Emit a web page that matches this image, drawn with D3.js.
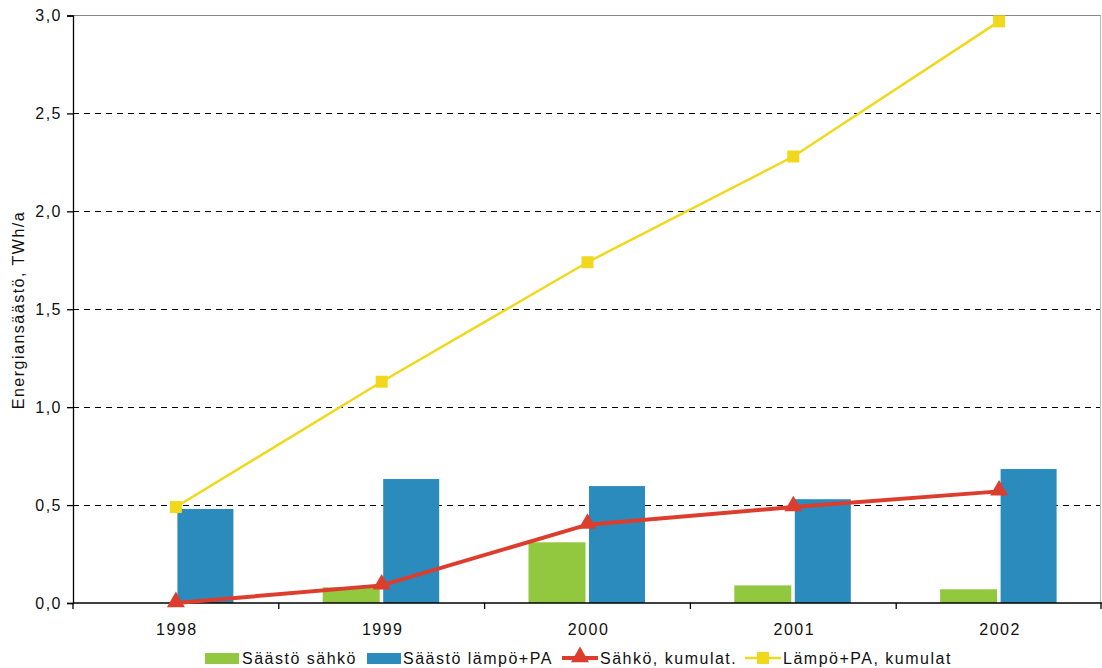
<!DOCTYPE html>
<html><head><meta charset="utf-8">
<script src="https://cdn.jsdelivr.net/npm/d3@7"></script>
<style>body{margin:0;background:#fff}svg{display:block}text{font-family:"Liberation Sans",Arial,sans-serif;fill:#111;letter-spacing:1.5px}</style>
</head><body>
<svg id="c" width="1102" height="668"></svg>
<script>
const years = ["1998","1999","2000","2001","2002"];
const saastoSahko = [0, 0.08, 0.31, 0.09, 0.07];
const saastoLampo = [0.48, 0.633, 0.597, 0.53, 0.684];
const sahkoKumulat = [0, 0.09, 0.40, 0.49, 0.57];
const lampoKumulat = [0.49, 1.13, 1.74, 2.28, 2.97];
const yTicks = [0, 0.5, 1.0, 1.5, 2.0, 2.5, 3.0];
const seriesNames = ["Säästö sähkö","Säästö lämpö+PA","Sähkö, kumulat.","Lämpö+PA, kumulat"];
const colors = {green:"#92c740", blue:"#2c8bbd", red:"#dc3d2d", yellow:"#f1d81c"};

const FS = "16px";
const svg = d3.select("#c");
const L = 73, R = 1102, T = 15.5, B = 603;
const x = d3.scaleBand().domain(years).range([L, R]);
const y = d3.scaleLinear().domain([0, 3]).range([B, T]);
const fmt = d => d.toFixed(1).replace(".", ",");

// grid
svg.append("g").selectAll("line").data(yTicks.filter(t => t > 0 && t < 3)).join("line")
  .attr("x1", L).attr("x2", R - 1).attr("y1", d => Math.round(y(d)) + 0.5).attr("y2", d => Math.round(y(d)) + 0.5)
  .attr("stroke", "#000").attr("stroke-width", 1).attr("stroke-dasharray", "6,5");
// top border and right border
svg.append("line").attr("x1", L).attr("x2", R - 1).attr("y1", y(3)).attr("y2", y(3)).attr("stroke", "#888").attr("stroke-width", 1.2);
svg.append("line").attr("x1", R - 1.5).attr("x2", R - 1.5).attr("y1", y(3)).attr("y2", B).attr("stroke", "#bbb").attr("stroke-width", 1);

// bars
const bw = 57;
svg.append("g").selectAll("rect").data(years).join("rect")
  .attr("x", d => x(d) + x.bandwidth()/2 - 2 - bw).attr("width", bw)
  .attr("y", (d,i) => y(saastoSahko[i])).attr("height", (d,i) => B - y(saastoSahko[i]))
  .attr("fill", colors.green);
svg.append("g").selectAll("rect").data(years).join("rect")
  .attr("x", d => x(d) + x.bandwidth()/2 + 1.5).attr("width", bw - 1)
  .attr("y", (d,i) => y(saastoLampo[i])).attr("height", (d,i) => B - y(saastoLampo[i]))
  .attr("fill", colors.blue);

// axes
const yAxis = d3.axisLeft(y).tickValues(yTicks).tickFormat(fmt).tickSize(6).tickPadding(5);
const gy = svg.append("g").attr("transform", `translate(${L},0)`).call(yAxis);
gy.select(".domain").attr("stroke", "#000").attr("stroke-width", 1.3);
gy.selectAll("line").attr("stroke", "#000").attr("stroke-width", 1.3);
gy.selectAll("text").style("font-size", FS).style("font-family", "Liberation Sans").attr("fill", "#111");

const gx = svg.append("g").attr("transform", `translate(0,${B})`);
gx.append("line").attr("x1", L).attr("x2", R).attr("y1", 0).attr("y2", 0).attr("stroke", "#000").attr("stroke-width", 1.3);
const bounds = years.map(d => x(d)).concat([R - 1]);
gx.selectAll("line.t").data(bounds).join("line").attr("class","t")
  .attr("x1", d => d).attr("x2", d => d).attr("y1", 0).attr("y2", 6).attr("stroke", "#000").attr("stroke-width", 1.3);
gx.selectAll("text").data(years).join("text")
  .attr("x", d => x(d) + x.bandwidth()/2 + 1).attr("y", 32).attr("text-anchor", "middle")
  .style("font-size", FS).text(d => d);

// lines
const cx = d => x(d) + x.bandwidth()/2;
const line = arr => d3.line().x((d,i) => cx(years[i])).y(d => y(d))(arr);
svg.append("path").attr("d", line(lampoKumulat)).attr("fill", "none").attr("stroke", colors.yellow).attr("stroke-width", 2.5);
svg.append("g").selectAll("rect").data(lampoKumulat).join("rect")
  .attr("x", (d,i) => cx(years[i]) - 6).attr("y", d => y(d) - 6).attr("width", 12).attr("height", 12)
  .attr("fill", colors.yellow);
svg.append("path").attr("d", line(sahkoKumulat)).attr("fill", "none").attr("stroke", colors.red).attr("stroke-width", 4);
const tri = d3.symbol().type(d3.symbolTriangle).size(140);
svg.append("g").selectAll("path").data(sahkoKumulat).join("path")
  .attr("d", tri).attr("transform", (d,i) => `translate(${cx(years[i])},${y(d) - 1})`)
  .attr("fill", colors.red);

// y label
svg.append("text").attr("transform", "translate(24,310) rotate(-90)").attr("text-anchor", "middle")
  .style("font-size", FS).text("Energiansäästö, TWh/a");

// legend
const lg = svg.append("g");
const ly = 658;
lg.append("rect").attr("x", 205).attr("y", ly - 5).attr("width", 34).attr("height", 11).attr("fill", colors.green);
lg.append("text").attr("x", 242).attr("y", ly + 6).style("font-size", FS).text(seriesNames[0]);
lg.append("rect").attr("x", 367).attr("y", ly - 5).attr("width", 34).attr("height", 11).attr("fill", colors.blue);
lg.append("text").attr("x", 403).attr("y", ly + 6).style("font-size", FS).text(seriesNames[1]);
lg.append("line").attr("x1", 562).attr("x2", 598).attr("y1", ly).attr("y2", ly).attr("stroke", colors.red).attr("stroke-width", 4);
lg.append("path").attr("d", tri).attr("transform", `translate(580,${ly - 1})`).attr("fill", colors.red);
lg.append("text").attr("x", 600).attr("y", ly + 6).style("font-size", FS).text(seriesNames[2]);
lg.append("line").attr("x1", 745).attr("x2", 781).attr("y1", ly).attr("y2", ly).attr("stroke", colors.yellow).attr("stroke-width", 2.5);
lg.append("rect").attr("x", 757).attr("y", ly - 6).attr("width", 12).attr("height", 12).attr("fill", colors.yellow);
lg.append("text").attr("x", 783).attr("y", ly + 6).style("font-size", FS).text(seriesNames[3]);
</script>
</body></html>
